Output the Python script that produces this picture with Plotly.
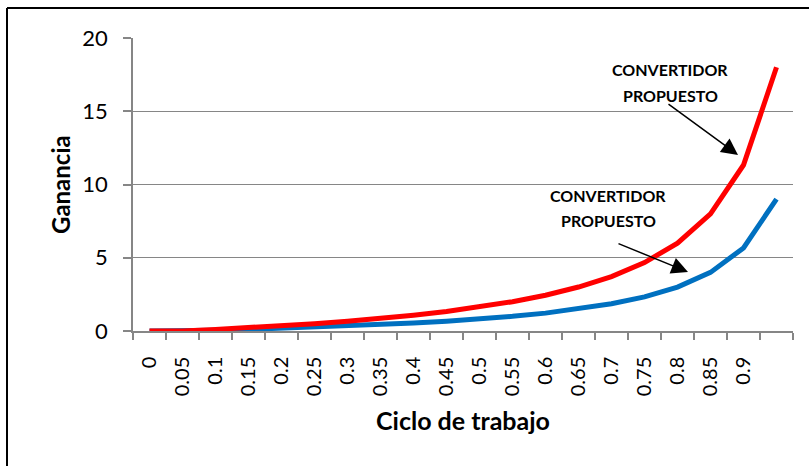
import plotly.graph_objects as go

categories = ["0", "0.05", "0.1", "0.15", "0.2", "0.25", "0.3", "0.35", "0.4", "0.45",
              "0.5", "0.55", "0.6", "0.65", "0.7", "0.75", "0.8", "0.85", "0.9", " "]
blue_values = [0.0, 0.0, 0.05, 0.11, 0.18, 0.25, 0.33, 0.43, 0.54, 0.67,
               0.82, 1.0, 1.22, 1.5, 1.86, 2.33, 3.0, 4.0, 5.67, 9.0]
red_values = [0.0, 0.0, 0.11, 0.22, 0.35, 0.5, 0.67, 0.86, 1.08, 1.33,
              1.64, 2.0, 2.44, 3.0, 3.71, 4.67, 6.0, 8.0, 11.33, 18.0]
y_ticks = [0, 5, 10, 15, 20]
label_lines = ["CONVERTIDOR", "PROPUESTO"]
x_title = "Ciclo de trabajo"
y_title = "Ganancia"

FONT = "Lato, Carlito, Calibri, sans-serif"
GRAY = "#868686"

# plot area in pixels
L, R, T, B = 133, 793, 38, 331
W, H = 809, 466
def px(x):
    return (x - L) / (R - L)
def py(y):
    return (B - y) / (B - T)

fig = go.Figure()
fig.add_trace(go.Scatter(x=categories, y=blue_values, mode="lines",
                         line=dict(color="#0070C0", width=5), showlegend=False))
fig.add_trace(go.Scatter(x=categories, y=red_values, mode="lines",
                         line=dict(color="#FF0000", width=5), showlegend=False))

fig.update_layout(
    width=W, height=H,
    margin=dict(l=L, r=W - R, t=T, b=H - B, autoexpand=False),
    paper_bgcolor="white", plot_bgcolor="white",
    font=dict(family=FONT, color="black"),
    xaxis=dict(
        type="category", categoryorder="array", categoryarray=categories,
        range=[-0.5, len(categories) - 0.5], automargin=False,
        tickson="boundaries", ticks="outside", ticklen=7, tickcolor=GRAY, tickwidth=1.5,
        showline=True, linecolor=GRAY, linewidth=1.5, showgrid=False, zeroline=False,
        tickangle=-90, tickfont=dict(size=20, family=FONT), ticklabelstandoff=16,
    ),
    yaxis=dict(
        range=[0, 20], tickvals=y_ticks, automargin=False,
        ticks="outside", ticklen=8, tickcolor=GRAY, tickwidth=1.5,
        showline=True, linecolor=GRAY, linewidth=1.5, showgrid=True, gridcolor=GRAY, gridwidth=1.3,
        zeroline=False, tickfont=dict(size=22, family=FONT), ticklabelstandoff=11,
    ),
)

# axis titles
fig.add_annotation(xref="paper", yref="paper", x=px(463), y=py(420), xanchor="center", yanchor="middle",
                   text="<b>" + x_title + "</b>", showarrow=False, font=dict(size=25, family=FONT))
fig.add_annotation(xref="paper", yref="paper", x=px(60), y=py(185), xanchor="center", yanchor="middle",
                   text="<b>" + y_title + "</b>", textangle=-90, showarrow=False,
                   font=dict(size=24, family=FONT))

# outer border (top and left visible)
fig.add_shape(type="line", xref="paper", yref="paper", x0=px(7), x1=px(W + 5), y0=py(8), y1=py(8),
              line=dict(color="black", width=2))
fig.add_shape(type="line", xref="paper", yref="paper", x0=px(7), x1=px(7), y0=py(8), y1=py(H + 5),
              line=dict(color="black", width=2))

# labels (two lines each, 25 px apart)
for cx, cy in [(670, 70), (608, 195)]:
    for i, line in enumerate(label_lines):
        fig.add_annotation(xref="paper", yref="paper", x=px(cx), y=py(cy + 25 * i),
                           xanchor="center", yanchor="middle",
                           text="<b>" + line + "</b>", showarrow=False,
                           font=dict(size=16, family=FONT, color="black"))

# arrows
for (tx, ty), (hx, hy) in [((667, 103), (738, 155)), ((617, 243), (688, 272))]:
    fig.add_annotation(xref="paper", yref="paper", x=px(hx), y=py(hy), ax=tx - hx, ay=ty - hy,
                       axref="pixel", ayref="pixel", text="", showarrow=True,
                       arrowhead=2, arrowsize=2.2, arrowwidth=1.5, arrowcolor="black")

fig.write_html("out.html", config={"displayModeBar": False},
               post_script="document.body.style.margin='0';")
